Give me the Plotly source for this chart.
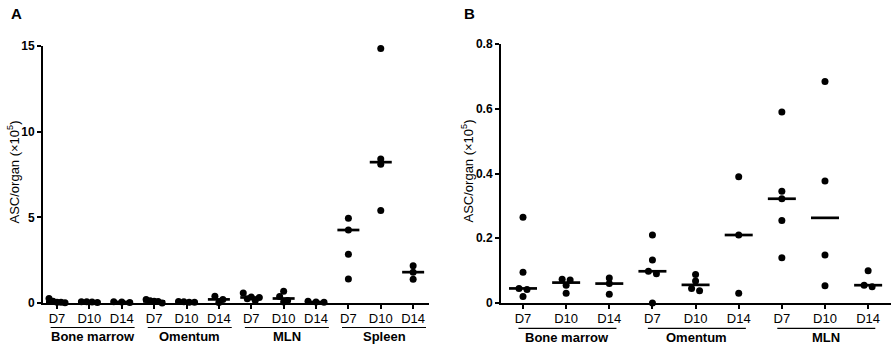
import plotly.graph_objects as go

# ---------------- data (ASC/organ, x10^5) ----------------
days = ["D7", "D10", "D14"]
organs_a = ["Bone marrow", "Omentum", "MLN", "Spleen"]
organs_b = ["Bone marrow", "Omentum", "MLN"]

bm_d7 = [0.265, 0.095, 0.045, 0.042, 0.02]
bm_d10 = [0.073, 0.071, 0.055, 0.03]
bm_d14 = [0.077, 0.06, 0.027]
om_d7 = [0.21, 0.133, 0.098, 0.09, 0.0]
om_d10 = [0.088, 0.068, 0.045, 0.038]
om_d14 = [0.39, 0.21, 0.03]
mln_d7 = [0.59, 0.345, 0.322, 0.255, 0.14]
mln_d10 = [0.684, 0.377, 0.148, 0.053]
mln_d14 = [0.1, 0.055, 0.05]
spl_d7 = [4.95, 4.26, 2.84, 1.40]
spl_d10 = [14.85, 8.4, 8.1, 5.4]
spl_d14 = [2.18, 1.8, 1.38]

medians_bm = [0.045, 0.063, 0.06]
medians_om = [0.098, 0.056, 0.21]
medians_mln = [0.322, 0.263, 0.055]
medians_spl = [4.26, 8.22, 1.8]

yticks_a = [0, 5, 10, 15]
yticks_b = [0, 0.2, 0.4, 0.6, 0.8]

groups_a = [bm_d7, bm_d10, bm_d14, om_d7, om_d10, om_d14,
            mln_d7, mln_d10, mln_d14, spl_d7, spl_d10, spl_d14]
groups_b = groups_a[:9]
med_a = medians_bm + medians_om + medians_mln + medians_spl
med_b = medians_bm + medians_om + medians_mln

# ---------------- layout geometry (pixels) ----------------
W, H = 893, 346
FONT = "Arial, Liberation Sans, sans-serif"
ax_a = dict(x0=43, x1=429, top=46, bot=303, xr=(-0.433, 11.49), yr=(0, 15))
ax_b = dict(x0=501, x1=891, top=44, bot=303, xr=(-0.51, 8.53), yr=(0, 0.8))


def ppu(ax):
    px_x = (ax["x1"] - ax["x0"]) / (ax["xr"][1] - ax["xr"][0])
    px_y = (ax["bot"] - ax["top"]) / (ax["yr"][1] - ax["yr"][0])
    return px_x, px_y


def swarm(vals, px_x, px_y, thr=4.6, maxspread=16.0, step=8.0):
    order = sorted(range(len(vals)), key=lambda k: -vals[k])
    rows, cur = [], []
    for k in order:
        if cur and (vals[cur[0]] - vals[k]) * px_y > thr:
            rows.append(cur)
            cur = []
        cur.append(k)
    if cur:
        rows.append(cur)
    off = [0.0] * len(vals)
    for r in rows:
        n = len(r)
        if n > 1:
            s = min(step, maxspread / (n - 1))
            for j, k in enumerate(r):
                off[k] = (j - (n - 1) / 2) * s / px_x
    return off


fig = go.Figure()


def add_panel(groups, meds, ax, xa, ya, half_px):
    px_x, px_y = ppu(ax)
    xs, ys = [], []
    for i, g in enumerate(groups):
        off = swarm(g, px_x, px_y)
        for v, o in zip(g, off):
            xs.append(i + o)
            ys.append(v)
    fig.add_trace(go.Scatter(x=xs, y=ys, mode="markers", xaxis=xa, yaxis=ya,
                             marker=dict(color="black", size=7), cliponaxis=False,
                             showlegend=False, hoverinfo="skip"))
    h = half_px / px_x
    mx, my = [], []
    for i, m in enumerate(meds):
        mx += [i - h, i + h, None]
        my += [m, m, None]
    fig.add_trace(go.Scatter(x=mx, y=my, mode="lines", xaxis=xa, yaxis=ya,
                             line=dict(color="black", width=2.7), cliponaxis=False,
                             showlegend=False, hoverinfo="skip"))


add_panel(groups_a, med_a, ax_a, "x", "y", 11)
add_panel(groups_b, med_b, ax_b, "x2", "y2", 14)


def xaxis(ax, n):
    return dict(domain=[ax["x0"] / W, ax["x1"] / W], range=list(ax["xr"]),
                tickmode="array", tickvals=list(range(n)), ticktext=days * (n // 3),
                showline=True, linewidth=2, linecolor="black", ticks="outside",
                ticklen=4, tickwidth=1.5, tickcolor="black", showgrid=False,
                zeroline=False, automargin=False, ticklabelstandoff=-2,
                tickfont=dict(family=FONT, size=13, color="black"),
                fixedrange=True)


def yaxis(ax, ticks, anchor):
    return dict(domain=[(H - ax["bot"]) / H, (H - ax["top"]) / H], range=list(ax["yr"]),
                tickmode="array", tickvals=ticks,
                ticktext=[("%g" % t) for t in ticks],
                showline=True, linewidth=2, linecolor="black", ticks="outside",
                ticklen=4, tickwidth=2, tickcolor="black", showgrid=False,
                zeroline=False, anchor=anchor, automargin=False,
                tickfont=dict(family=FONT, size=12, color="black", weight="bold"),
                fixedrange=True)


fig.update_layout(
    width=W, height=H, margin=dict(l=0, r=0, t=0, b=0, autoexpand=False),
    paper_bgcolor="white", plot_bgcolor="white", showlegend=False,
    xaxis=dict(xaxis(ax_a, 12), anchor="y"),
    yaxis=yaxis(ax_a, yticks_a, "x"),
    xaxis2=dict(xaxis(ax_b, 9), anchor="y2"),
    yaxis2=yaxis(ax_b, yticks_b, "x2"),
)

shapes, annots = [], []


def group_labels(organs, ax, xref, half_px, shift, line_y, text_y):
    px_x, _ = ppu(ax)
    for g, name in enumerate(organs):
        c = g * 3 + 1 + shift
        h = half_px / px_x
        shapes.append(dict(type="line", xref=xref, yref="paper", x0=c - h, x1=c + h,
                           y0=(H - line_y) / H, y1=(H - line_y) / H,
                           line=dict(color="black", width=1.2)))
        annots.append(dict(text="<b>" + name + "</b>", xref=xref, yref="paper", x=c,
                           y=(H - text_y) / H, showarrow=False, xanchor="center",
                           yanchor="middle", font=dict(family=FONT, size=13, color="black")))


group_labels(organs_a, ax_a, "x", 42, 0.1, 327.5, 336)
group_labels(organs_b, ax_b, "x2", 49, 0.03, 328.3, 337)

ytitle = "ASC/organ (×10<sup>5</sup>)"
for xc, ax in ((13, ax_a), (467, ax_b)):
    annots.append(dict(text=ytitle, xref="paper", yref="paper", x=xc / W,
                       y=(H - (ax["top"] + ax["bot"]) / 2 + 2) / H, textangle=-90,
                       showarrow=False, xanchor="center", yanchor="middle",
                       font=dict(family=FONT, size=13, color="black")))
for lbl, xc in (("A", 16), ("B", 469)):
    annots.append(dict(text="<b>" + lbl + "</b>", xref="paper", yref="paper", x=xc / W,
                       y=(H - 13) / H, showarrow=False, xanchor="center", yanchor="middle",
                       font=dict(family=FONT, size=15, color="black")))

fig.update_layout(shapes=shapes, annotations=annots)
fig.write_html("out.html", config={"displayModeBar": False},
               post_script="document.body.style.margin='0px';"
                           "document.body.style.overflow='hidden';")
